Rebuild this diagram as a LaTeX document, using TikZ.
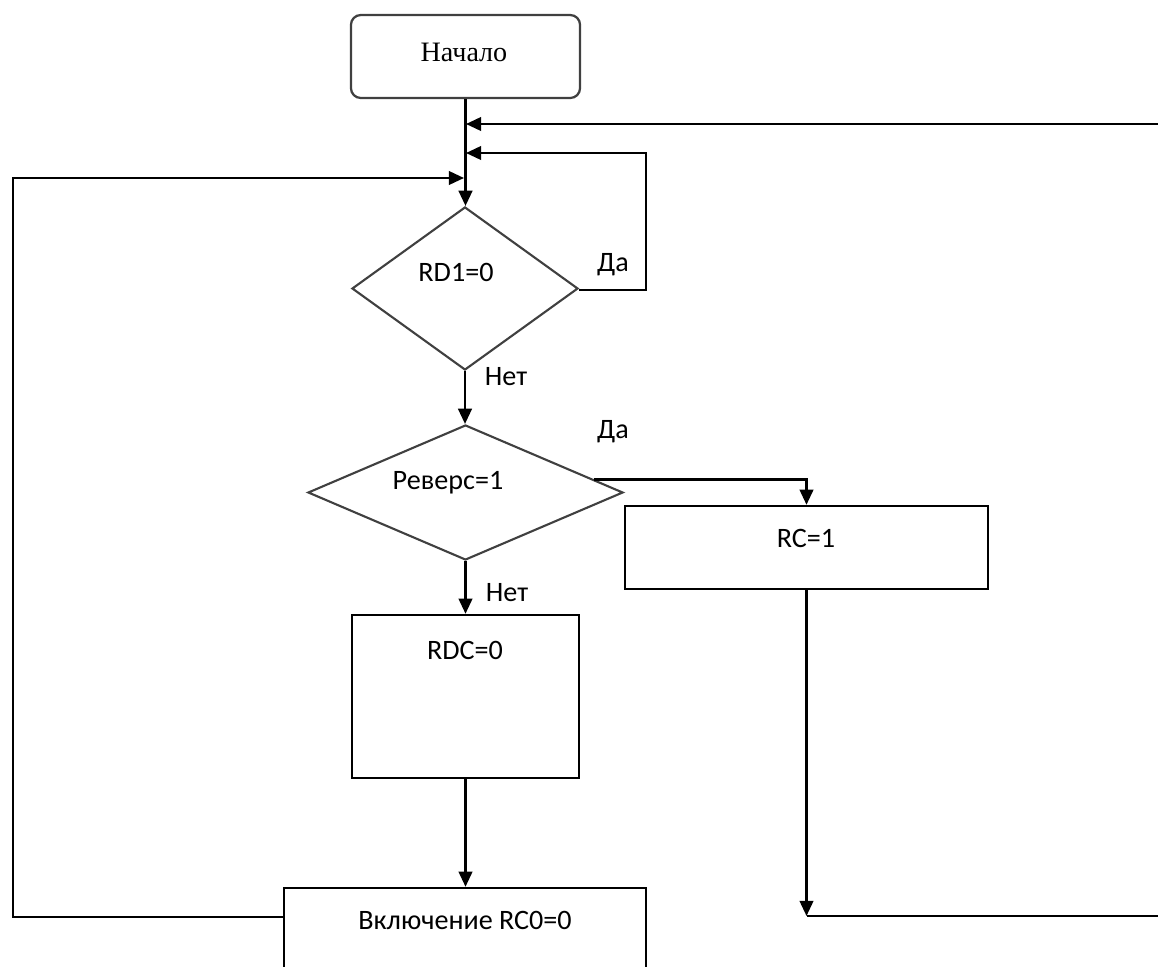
\documentclass[tikz,border=0pt]{standalone}
\usepackage{fontspec}
\setmainfont{Carlito}
\newfontfamily\startfont{Liberation Serif}
\usetikzlibrary{arrows.meta,shapes.geometric,calc}

\begin{document}
\begin{tikzpicture}[x=0.025cm,y=-0.025cm]
\tikzset{
  startnode/.style={rectangle,rounded corners=7pt,draw=black!75,line width=1.6pt,minimum width=5.725cm,minimum height=2.075cm,inner sep=0pt},
  decision/.style={diamond,draw=black!75,line width=1.5pt,inner sep=0pt},
  process/.style={rectangle,draw=black,line width=1.7pt,inner sep=0pt},
  txt/.style={font=\fontsize{20}{24}\selectfont,inner sep=0pt},
  flowline/.style={draw=black,line width=1.7pt,line join=miter},
  flowarrow/.style={flowline,-{Triangle[length=3.8mm,width=3.4mm]}}
}
\useasboundingbox (0,0) rectangle (1158,967);
\clip (0,0) rectangle (1158,967);
\node[startnode] (n_start) at (465.5,56.5) {};
\node[decision,minimum width=5.65cm,minimum height=4.075cm] (n_rd1) at (465,288.5) {};
\node[decision,minimum width=7.875cm,minimum height=3.375cm] (n_rev) at (465.5,492.5) {};
\node[process,minimum width=9.075cm,minimum height=2.075cm] (n_rc) at (806.5,547.5) {};
\node[process,minimum width=5.675cm,minimum height=4.075cm] (n_rdc) at (465.5,696.5) {};
\node[process,minimum width=9.05cm,minimum height=3.5cm] (n_on) at (465,958) {};
\node[txt,font=\startfont\fontsize{20}{24}\selectfont] (t_start) at (464,52) {Начало};
\node[txt] (t_rd1) at (456,272) {RD1=0};
\node[txt] (t_rev) at (448,483) {Реверс=1};
\node[txt] (t_rc) at (806,538) {RC=1};
\node[txt] (t_rdc) at (465,650) {RDC=0};
\node[txt] (t_on) at (465,920) {Включение RC0=0};
\node[txt] (t_yes1) at (613,265) {Да};
\node[txt] (t_no1) at (506,377) {Нет};
\node[txt] (t_yes2) at (613,432) {Да};
\node[txt] (t_no2) at (507,593) {Нет};
\coordinate (c_top_in) at (466,124);
\coordinate (c_mid_in) at (466,153);
\coordinate (c_left_in) at (464,178);
\coordinate (c_loop) at (646,290);
\coordinate (c_back_lo) at (13,917);
\coordinate (c_back_hi) at (13,178);
\coordinate (c_ret_lo) at (806,916);
\coordinate (c_ret_r) at (1175,916);
\draw[flowarrow] (n_start.south) -- (n_start.south |- n_rd1.north);
\draw[flowarrow] (c_loop -| n_rd1.east) -- (c_loop) |- (c_mid_in);
\draw[flowarrow] (n_rd1.south) -- (n_rev.north -| n_rd1.south);
\draw[flowarrow] ($(n_rev.north)!0.81!(n_rev.east)$) -| (n_rc.north);
\draw[flowarrow] (n_rev.south) -- (n_rdc.north -| n_rev.south);
\draw[flowarrow] (n_rdc.south) -- (n_on.north -| n_rdc.south);
\draw[flowarrow] (n_on.west |- c_back_lo) -- (c_back_lo) -- (c_back_hi) -- (c_left_in);
\draw[flowarrow] (n_rc.south) -- (n_rc.south |- c_ret_lo);
\draw[flowarrow] (n_rc.south |- c_ret_lo) -- (c_ret_r) |- (c_top_in);
\end{tikzpicture}
\end{document}
